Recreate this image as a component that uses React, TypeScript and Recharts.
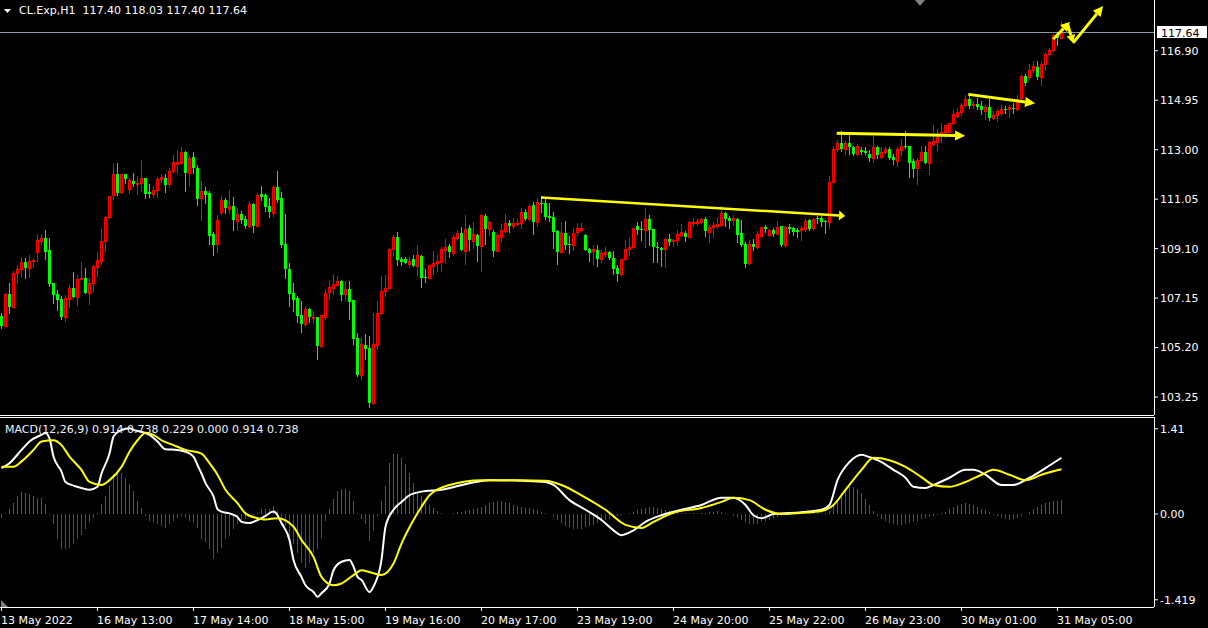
import React from "react";
import { ComposedChart, Bar, Line, XAxis, YAxis, ReferenceLine } from "recharts";

// CL.Exp H1 bars, 13 May - 31 May 2022 (index = bar position on the chart)
const opens = [
  106.44, 106.06, 107.31, 106.81, 108.13, 108.28, 108.56, 108.35, 108.6, 108.98,
  109.39, 109.52, 109.05, 107.73, 107.31, 107.1, 106.4, 107.13, 107.55, 107.21,
  107.89, 107.94, 107.36, 107.73, 108.39, 108.62, 109.39, 110.33, 111.2, 112.04,
  111.34, 112.04, 111.44, 111.77, 111.66, 111.7, 111.87, 111.34, 111.26, 111.4,
  111.83, 111.88, 111.64, 112.16, 112.44, 112.49, 112.91, 112.08, 112.71, 112.28,
  111.1, 111.36, 111.3, 109.66, 109.29, 110.56, 111.02, 110.67, 110.78, 110.2,
  110.47, 110.27, 109.99, 110.86, 110.0, 111.25, 111.2, 110.78, 110.52, 111.53,
  111.1, 109.28, 108.3, 107.34, 107.15, 106.48, 106.14, 106.71, 106.38, 106.4,
  105.27, 106.42, 107.38, 107.54, 107.68, 107.81, 107.3, 107.51, 107.07, 105.58,
  104.11, 105.3, 105.18, 103.0, 105.31, 106.56, 107.43, 107.55, 109.09, 109.56,
  108.69, 108.69, 108.51, 108.69, 108.43, 108.81, 107.99, 107.95, 108.43, 108.53,
  108.58, 109.06, 109.2, 108.94, 109.52, 109.72, 109.02, 109.91, 109.4, 109.64,
  109.2, 110.39, 109.87, 109.76, 109.01, 109.56, 109.79, 110.11, 109.99, 110.07,
  110.11, 110.54, 110.27, 110.82, 110.15, 110.9, 110.9, 110.39, 110.35, 109.79,
  108.97, 109.72, 109.28, 109.24, 109.76, 109.83, 109.64, 109.09, 109.01, 109.05,
  108.69, 108.89, 108.97, 108.73, 108.34, 108.11, 108.69, 109.09, 109.16, 109.99,
  109.87, 109.83, 110.27, 109.87, 109.16, 109.12, 109.09, 109.48, 109.4, 109.44,
  109.64, 109.72, 109.56, 110.11, 110.11, 110.15, 110.27, 109.76, 109.95, 109.99,
  110.03, 110.5, 110.31, 110.23, 110.27, 109.72, 109.28, 108.53, 109.28, 109.16,
  109.6, 109.95, 109.65, 109.83, 109.68, 109.99, 109.24, 109.95, 109.91, 109.83,
  109.83, 109.87, 110.23, 109.91, 110.31, 110.31, 110.19, 110.15, 111.74, 113.03,
  113.26, 113.03, 113.26, 113.11, 112.83, 112.99, 112.95, 112.83, 112.67, 113.11,
  112.72, 112.91, 113.03, 112.71, 112.55, 112.99, 113.14, 113.14, 112.55, 112.28,
  112.59, 112.91, 112.48, 113.22, 113.3, 113.62, 113.7, 113.71, 114.05, 114.33,
  114.49, 114.76, 115.0, 114.76, 114.8, 114.72, 114.52, 114.68, 114.25, 114.37,
  114.45, 114.6, 114.6, 114.64, 114.6, 115.04, 115.9, 115.87, 116.14, 116.26,
  115.86, 116.38, 116.77, 116.93, 117.52, 117.4,
];
const highs = [
  106.56, 107.35, 107.73, 108.23, 108.44, 108.77, 108.74, 108.84, 108.72, 109.66,
  109.68, 109.83, 109.52, 107.74, 107.47, 107.23, 107.27, 107.65, 108.18, 108.06,
  108.58, 108.34, 107.95, 108.44, 108.97, 109.86, 110.37, 111.19, 112.44, 112.48,
  112.06, 112.06, 111.88, 112.08, 111.97, 112.59, 111.89, 111.66, 111.58, 111.94,
  112.04, 112.04, 112.27, 112.78, 112.99, 113.12, 112.93, 112.76, 112.91, 112.38,
  111.75, 111.54, 111.37, 109.76, 110.43, 111.17, 111.1, 111.41, 111.13, 110.69,
  110.58, 110.37, 110.98, 110.88, 111.3, 111.57, 111.28, 111.1, 111.57, 112.15,
  111.32, 110.47, 108.53, 107.76, 107.24, 107.04, 106.83, 106.75, 106.63, 106.42,
  106.5, 107.51, 107.84, 108.09, 108.02, 107.86, 107.82, 107.82, 107.09, 105.79,
  105.58, 105.73, 105.66, 106.56, 107.04, 108.03, 108.06, 109.12, 109.64, 109.76,
  108.78, 108.77, 108.78, 108.85, 109.24, 108.85, 108.3, 108.47, 109.01, 108.85,
  109.16, 109.48, 109.28, 109.64, 109.82, 109.95, 110.43, 110.03, 110.15, 109.68,
  110.45, 110.47, 110.17, 109.83, 109.72, 110.07, 110.47, 110.23, 110.31, 110.27,
  110.7, 110.66, 110.86, 110.94, 111.1, 111.17, 111.06, 110.9, 110.54, 109.83,
  110.15, 110.19, 109.6, 109.91, 110.11, 110.11, 109.66, 109.11, 109.24, 109.24,
  109.05, 109.16, 108.99, 109.01, 108.45, 108.71, 109.44, 109.52, 109.93, 110.15,
  110.19, 110.7, 110.43, 109.89, 109.36, 109.16, 109.5, 109.68, 109.48, 109.83,
  110.07, 109.79, 110.19, 110.31, 110.27, 110.31, 110.35, 110.03, 110.15, 110.35,
  110.78, 110.54, 110.39, 110.43, 110.29, 110.23, 109.36, 109.44, 109.48, 109.79,
  109.97, 110.03, 109.87, 109.91, 110.19, 110.01, 109.99, 110.07, 109.95, 109.91,
  109.99, 110.27, 110.27, 110.31, 110.39, 110.39, 110.23, 111.95, 113.15, 113.38,
  113.74, 113.34, 113.62, 113.13, 113.22, 113.11, 113.11, 112.99, 113.54, 113.14,
  113.11, 113.11, 113.11, 112.83, 113.11, 113.42, 113.74, 113.16, 112.63, 112.67,
  113.14, 113.14, 113.34, 113.97, 113.82, 114.05, 113.99, 114.07, 114.56, 114.64,
  114.84, 115.16, 115.19, 114.92, 115.04, 114.92, 114.76, 115.0, 114.52, 114.6,
  114.76, 114.72, 114.76, 114.84, 115.16, 115.94, 115.98, 116.38, 116.5, 116.5,
  116.46, 116.85, 117.01, 117.56, 117.6, 118.03,
];
const lows = [
  105.97, 106.05, 106.57, 106.79, 107.76, 107.99, 107.94, 107.99, 108.39, 108.62,
  109.28, 108.69, 107.64, 106.97, 106.68, 106.33, 106.25, 106.81, 107.18, 106.88,
  107.89, 107.35, 106.92, 107.44, 108.03, 108.49, 108.99, 110.3, 111.07, 111.21,
  111.29, 111.68, 111.28, 111.58, 111.24, 111.38, 111.11, 111.15, 111.15, 111.15,
  111.71, 111.34, 111.52, 112.13, 112.07, 112.47, 111.38, 111.61, 112.07, 110.82,
  110.23, 110.89, 109.28, 108.85, 108.98, 110.47, 110.5, 110.5, 109.83, 109.83,
  110.12, 109.92, 109.94, 109.76, 109.98, 111.02, 110.59, 110.36, 110.4, 110.94,
  109.18, 107.94, 106.85, 106.65, 106.22, 105.83, 106.06, 106.2, 106.18, 104.76,
  105.23, 106.33, 107.1, 107.3, 107.66, 107.07, 107.07, 106.33, 105.33, 104.08,
  103.96, 104.75, 102.87, 102.98, 105.14, 106.53, 107.23, 107.53, 108.85, 108.45,
  108.45, 108.53, 108.39, 108.4, 108.06, 107.6, 107.8, 107.93, 108.11, 108.22,
  108.22, 108.53, 108.77, 108.85, 109.44, 109.03, 108.49, 109.05, 109.14, 108.61,
  108.22, 109.28, 109.64, 108.81, 108.99, 109.4, 109.76, 109.76, 109.91, 110.03,
  109.91, 110.23, 110.23, 109.68, 109.99, 110.54, 110.27, 110.19, 109.12, 108.49,
  108.95, 109.09, 108.93, 109.05, 109.64, 109.79, 109.03, 108.61, 108.49, 108.42,
  108.57, 108.81, 108.71, 108.1, 107.82, 108.06, 108.67, 108.85, 109.12, 109.68,
  109.44, 109.16, 109.24, 108.57, 108.57, 108.42, 108.38, 109.24, 109.2, 109.24,
  109.6, 109.4, 109.54, 109.99, 110.03, 110.11, 109.6, 109.36, 109.56, 109.91,
  110.01, 109.99, 109.91, 110.03, 109.36, 109.2, 108.38, 108.51, 109.05, 109.14,
  109.58, 109.76, 109.6, 109.6, 109.66, 109.2, 109.22, 109.72, 109.64, 109.56,
  109.44, 109.79, 109.85, 109.87, 110.11, 109.99, 109.72, 109.91, 111.67, 112.95,
  112.95, 112.83, 112.83, 112.79, 112.79, 112.83, 112.83, 112.55, 112.51, 112.67,
  112.67, 112.87, 112.63, 112.44, 112.36, 112.79, 113.07, 111.92, 111.92, 111.65,
  112.57, 112.46, 112.04, 113.18, 112.99, 113.3, 113.5, 113.7, 114.01, 114.29,
  114.37, 114.72, 114.64, 114.64, 114.6, 114.41, 114.21, 114.17, 114.21, 114.13,
  114.37, 114.45, 114.29, 114.45, 114.56, 115.0, 115.55, 115.79, 116.06, 115.79,
  115.55, 116.14, 116.73, 116.89, 117.13, 117.4,
];
const closes = [
  106.05, 107.31, 106.79, 108.13, 108.28, 108.56, 108.35, 108.6, 108.65, 109.44,
  109.52, 108.98, 107.71, 107.27, 107.07, 106.4, 107.15, 107.55, 107.19, 107.89,
  107.94, 107.35, 107.73, 108.42, 108.64, 109.39, 110.33, 111.17, 112.04, 111.3,
  112.04, 111.86, 111.79, 111.66, 111.69, 111.87, 111.26, 111.26, 111.4, 111.84,
  111.92, 111.62, 112.15, 112.5, 112.5, 112.91, 112.08, 112.66, 112.28, 111.07,
  111.36, 111.23, 109.6, 109.24, 110.23, 111.0, 110.7, 110.78, 110.23, 110.47,
  110.23, 110.0, 110.86, 110.0, 111.21, 111.15, 110.75, 110.54, 111.53, 111.03,
  109.24, 108.31, 107.31, 107.07, 106.46, 106.13, 106.71, 106.4, 106.4, 105.27,
  106.47, 107.35, 107.58, 107.69, 107.81, 107.27, 107.51, 107.0, 105.54, 104.11,
  105.34, 105.14, 103.0, 105.34, 106.56, 107.43, 107.55, 109.09, 109.56, 108.65,
  108.56, 108.55, 108.61, 108.42, 108.85, 107.94, 107.95, 108.45, 108.53, 108.61,
  109.09, 109.16, 108.97, 109.56, 109.72, 109.05, 109.87, 109.44, 109.68, 109.2,
  110.43, 109.87, 110.15, 109.01, 109.64, 109.83, 110.11, 109.99, 110.11, 110.11,
  110.54, 110.28, 110.78, 110.15, 110.94, 110.86, 110.35, 110.31, 109.76, 108.97,
  109.72, 109.24, 109.24, 109.72, 109.91, 109.91, 109.05, 108.93, 109.09, 108.69,
  108.93, 108.97, 108.73, 108.3, 108.1, 108.69, 109.09, 109.16, 109.91, 109.83,
  109.83, 110.27, 109.83, 109.16, 109.12, 109.05, 109.48, 109.36, 109.44, 109.68,
  109.76, 109.56, 110.15, 110.15, 110.19, 110.27, 109.79, 109.95, 110.03, 110.07,
  110.5, 110.27, 110.19, 110.31, 109.64, 109.24, 108.49, 109.28, 109.16, 109.68,
  109.95, 109.87, 109.83, 109.68, 109.95, 109.24, 109.95, 109.87, 109.76, 109.76,
  109.91, 110.19, 109.87, 110.27, 110.27, 110.15, 110.15, 111.71, 113.03, 113.26,
  113.03, 113.26, 113.11, 112.83, 113.14, 112.91, 112.87, 112.67, 113.11, 112.79,
  112.91, 113.03, 112.67, 112.59, 113.03, 113.14, 113.11, 112.48, 112.24, 112.59,
  112.91, 112.48, 113.3, 113.34, 113.5, 113.7, 113.97, 114.05, 114.41, 114.49,
  114.76, 115.0, 114.72, 114.8, 114.68, 114.56, 114.68, 114.25, 114.37, 114.52,
  114.6, 114.56, 114.68, 114.6, 115.0, 115.9, 115.63, 116.14, 116.3, 115.86,
  116.38, 116.77, 116.93, 117.52, 117.4, 117.64,
];

const lastPrice = 117.64;
const priceTicks = [116.9, 114.95, 113.0, 111.05, 109.1, 107.15, 105.2, 103.25];

const timeTickIdx = [0, 24, 48, 72, 96, 120, 144, 168, 192, 216, 240, 264];
const timeTickLabels = [
  "13 May 2022", "16 May 13:00", "17 May 14:00", "18 May 15:00", "19 May 16:00", "20 May 17:00",
  "23 May 19:00", "24 May 20:00", "25 May 22:00", "26 May 23:00", "30 May 01:00", "31 May 05:00",
];

// MACD(12,26,9) histogram, one value per bar
const histValues = [
  -0.06, 0.02, 0.08, 0.19, 0.3, 0.36, 0.35, 0.33, 0.3, 0.27,
  0.27, 0.17, -0.02, -0.17, -0.42, -0.58, -0.58, -0.56, -0.5, -0.42,
  -0.34, -0.25, -0.14, -0.06, 0.02, 0.16, 0.3, 0.46, 0.66, 0.66,
  0.68, 0.6, 0.49, 0.38, 0.22, 0.1, -0.03, -0.12, -0.14, -0.17,
  -0.2, -0.23, -0.17, -0.12, -0.06, -0.03, -0.06, -0.12, -0.14, -0.23,
  -0.42, -0.47, -0.58, -0.75, -0.64, -0.56, -0.42, -0.36, -0.25, -0.17,
  -0.12, -0.09, -0.03, -0.01, 0.01, 0.08, 0.08, 0.08, 0.13, 0.05,
  -0.06, -0.2, -0.39, -0.5, -0.64, -0.81, -0.89, -0.81, -0.64, -0.58,
  -0.39, -0.12, 0.08, 0.24, 0.38, 0.41, 0.41, 0.38, 0.22, 0.01,
  -0.09, -0.17, -0.45, -0.28, -0.03, 0.22, 0.46, 0.85, 0.99, 1.0,
  0.93, 0.82, 0.68, 0.52, 0.35, 0.3, 0.22, 0.15, 0.1, 0.05,
  0.02, 0.0, 0.0, 0.02, 0.03, 0.04, 0.05, 0.06, 0.08, 0.1,
  0.12, 0.15, 0.18, 0.2, 0.22, 0.22, 0.2, 0.18, 0.15, 0.14,
  0.12, 0.1, 0.1, 0.08, 0.06, 0.04, 0.02, 0.0, -0.05, -0.1,
  -0.15, -0.2, -0.22, -0.25, -0.25, -0.24, -0.22, -0.2, -0.18, -0.15,
  -0.12, -0.1, -0.08, -0.06, -0.04, -0.02, 0.0, 0.02, 0.04, 0.06,
  0.08, 0.1, 0.12, 0.12, 0.1, 0.08, 0.06, 0.05, 0.04, 0.03,
  0.02, 0.02, 0.02, 0.02, 0.02, 0.02, 0.02, 0.03, 0.04, 0.05,
  0.04, 0.02, 0.0, -0.03, -0.06, -0.1, -0.14, -0.16, -0.17, -0.16,
  -0.14, -0.12, -0.1, -0.07, -0.05, -0.03, -0.02, -0.01, 0.0, 0.0,
  0.01, 0.01, 0.01, 0.01, 0.01, 0.01, 0.02, 0.05, 0.15, 0.25,
  0.35, 0.42, 0.45, 0.45, 0.42, 0.35, 0.25, 0.15, 0.05, -0.03,
  -0.08, -0.12, -0.15, -0.17, -0.18, -0.18, -0.17, -0.15, -0.13, -0.11,
  -0.09, -0.07, -0.05, -0.03, -0.01, 0.01, 0.04, 0.08, 0.12, 0.15,
  0.17, 0.18, 0.17, 0.15, 0.12, 0.09, 0.06, 0.03, -0.01, -0.04,
  -0.07, -0.09, -0.1, -0.09, -0.06, -0.03, 0.0, 0.04, 0.08, 0.12,
  0.15, 0.18, 0.2, 0.21, 0.22, 0.23,
];
// MACD main line (white), read at these bars
const macdIdx = [
  0, 2, 5, 7, 10, 11, 12, 13, 15, 16, 18, 20, 22, 24, 25, 27, 28, 30, 32, 33,
  35, 37, 39, 41, 44, 46, 48, 49, 50, 51, 53, 54, 55, 57, 59, 60, 62, 63, 65, 66,
  68, 69, 70, 72, 73, 75, 76, 78, 79, 80, 82, 83, 85, 87, 88, 89, 90, 92, 93, 95,
  96, 98, 100, 102, 105, 110, 117, 122, 130, 136, 138, 142, 146, 150, 153, 155, 158, 161, 165, 170,
  175, 180, 183, 186, 188, 190, 193, 200, 205, 207, 209, 212, 215, 217, 220, 223, 226, 228, 231, 233,
  237, 241, 243, 246, 250, 253, 257, 261, 265,
];
const macdValues = [
  0.76, 0.84, 1.06, 1.2, 1.31, 1.34, 1.25, 0.95, 0.7, 0.53, 0.47, 0.43, 0.4, 0.45, 0.67, 1.0, 1.28, 1.39, 1.42, 1.39,
  1.36, 1.31, 1.2, 1.07, 1.06, 1.03, 0.95, 0.81, 0.67, 0.51, 0.29, 0.08, 0.04, 0.01, -0.05, -0.13, -0.15, -0.13, -0.07, -0.03,
  0.04, -0.02, -0.15, -0.43, -0.76, -1.04, -1.18, -1.29, -1.37, -1.31, -1.15, -0.93, -0.79, -0.76, -0.87, -1.04, -1.09, -1.29, -1.2, -0.76,
  -0.21, 0.07, 0.2, 0.31, 0.37, 0.4, 0.51, 0.56, 0.55, 0.53, 0.48, 0.23, 0.07, -0.1, -0.27, -0.35, -0.27, -0.13, -0.02, 0.07,
  0.15, 0.27, 0.27, 0.15, -0.02, -0.07, 0.0, 0.03, 0.07, 0.15, 0.56, 0.86, 0.98, 0.94, 0.86, 0.73, 0.6, 0.45, 0.43, 0.48,
  0.6, 0.73, 0.73, 0.65, 0.48, 0.48, 0.6, 0.76, 0.93,
];
// signal line (yellow)
const signalIdx = [
  0, 3, 5, 8, 10, 13, 15, 17, 20, 22, 25, 27, 30, 32, 34, 36, 38, 40, 43, 46,
  50, 52, 54, 56, 59, 61, 64, 66, 69, 73, 75, 78, 80, 83, 85, 88, 90, 93, 95, 98,
  100, 103, 105, 107, 112, 120, 130, 136, 140, 145, 151, 156, 160, 163, 168, 175, 180, 183, 187, 191,
  195, 200, 205, 208, 211, 215, 218, 222, 226, 230, 233, 237, 241, 245, 248, 252, 256, 260, 265,
];
const signalValues = [
  0.78, 0.78, 0.87, 1.06, 1.2, 1.22, 1.14, 0.95, 0.73, 0.53, 0.48, 0.56, 0.78, 1.03, 1.22, 1.34, 1.31, 1.22, 1.14, 1.06,
  1.0, 0.84, 0.65, 0.4, 0.18, 0.01, -0.07, -0.09, -0.07, -0.21, -0.43, -0.71, -1.04, -1.18, -1.15, -1.01, -0.93, -0.98, -1.01, -0.82,
  -0.49, -0.1, 0.12, 0.31, 0.48, 0.56, 0.56, 0.55, 0.48, 0.31, 0.07, -0.18, -0.23, -0.13, 0.02, 0.1, 0.2, 0.27, 0.23, 0.07,
  0.0, 0.02, 0.05, 0.15, 0.4, 0.73, 0.93, 0.89, 0.78, 0.61, 0.48, 0.45, 0.53, 0.65, 0.73, 0.65, 0.56, 0.65, 0.74,
];
const macdTicks = [1.41, 0, -1.419];
const macdTickLabels = ["1.41", "0.00", "-1.419"];

// yellow arrows drawn on the price chart: [bar, price]
const arrowFrom = [[134.9, 111.12], [208.8, 113.65], [241.7, 115.18], [262.9, 117.35], [266.6, 117.91], [267.9, 117.21]];
const arrowTo = [[210.9, 110.39], [240.9, 113.55], [258.4, 114.83], [267.1, 118.03], [267.9, 117.21], [275.4, 118.66]];

const candles = closes.map((c, i) => ({ i, o: opens[i], h: highs[i], l: lows[i], c }));
const macdRows = histValues.map((v, i) => ({
  i,
  hist: v,
  main: macdIdx.indexOf(i) >= 0 ? macdValues[macdIdx.indexOf(i)] : null,
  sig: signalIdx.indexOf(i) >= 0 ? signalValues[signalIdx.indexOf(i)] : null,
}));

const FONT = "DejaVu Sans";
const BULL = "#ff0000";
const BEAR = "#00ff00";
const X_DOMAIN = [-0.375, 288.125];
const PLOT_RIGHT = 1154;

function Candle(props: any) {
  const { x, y, width, height, payload } = props;
  if (x == null || y == null || !payload) return null;
  const { o, h, l, c } = payload;
  const cx = Math.floor(x + width / 2) + 0.5;
  const top = Math.min(y, y + height);
  const k = Math.abs(height) / (h - l || 1);
  const py = (p: number) => Math.round(top + (h - p) * k);
  const yH = py(h), yL = py(l), yO = py(o), yC = py(c);
  const bull = c >= o;
  const col = bull ? BULL : BEAR;
  const bt = Math.min(yO, yC), bb = Math.max(yO, yC);
  return (
    <g shapeRendering="crispEdges">
      <line x1={cx} x2={cx} y1={yH} y2={yL + 1} stroke={col} />
      {bull ? (
        bb - bt >= 1 ? (
          <rect x={cx - 1} y={bt + 0.5} width={2} height={bb - bt} fill="#000" stroke={col} />
        ) : (
          <rect x={cx - 1.5} y={bt} width={3} height={1} fill={col} />
        )
      ) : (
        <rect x={cx - 1.5} y={bt} width={3} height={Math.max(bb - bt, 1)} fill={col} />
      )}
    </g>
  );
}

function HistBar(props: any) {
  const { x, y, width, height, payload } = props;
  if (x == null || y == null || !payload) return null;
  const cx = Math.floor(x + width / 2);
  const top = Math.min(y, y + height);
  return (
    <rect
      x={cx}
      y={top}
      width={1}
      height={Math.max(Math.abs(height), 0.5)}
      fill={payload.hist >= 0 ? "#c81e3c" : "#1e6e1e"}
      shapeRendering="crispEdges"
    />
  );
}

const arrowShape = (w: number, headLen: number, headHalf: number) => (props: any) => {
  const { x1, y1, x2, y2 } = props;
  const a = Math.atan2(y2 - y1, x2 - x1);
  const bx = x2 - headLen * Math.cos(a);
  const by = y2 - headLen * Math.sin(a);
  const nx = -Math.sin(a) * headHalf;
  const ny = Math.cos(a) * headHalf;
  return (
    <g>
      <line x1={x1} y1={y1} x2={bx} y2={by} stroke="#ffff00" strokeWidth={w} />
      <polygon points={`${x2},${y2} ${bx + nx},${by + ny} ${bx - nx},${by - ny}`} fill="#ffff00" />
    </g>
  );
};
const arrowStyles = [
  [2.5, 6, 5],
  [3, 10, 5],
  [3, 10, 5],
  [3, 9, 5],
  [3, 8, 4.5],
  [3, 10, 5],
];

const priceLineShape = (props: any) => {
  const { x1, x2, y1 } = props;
  const left = Math.max(Math.min(x1, x2), 0);
  const right = Math.min(Math.max(x1, x2), PLOT_RIGHT);
  const yy = Math.round(y1) + 0.5;
  return (
    <g>
      <line x1={left} x2={right} y1={yy} y2={yy} stroke="#8796a8" shapeRendering="crispEdges" />
      <rect x={right + 3} y={yy - 6.5} width={50} height={12} fill="#ffffff" />
      <text x={right + 7} y={yy + 4} fill="#000" fontSize={11} fontFamily={FONT}>
        {lastPrice.toFixed(2)}
      </text>
    </g>
  );
};

function TimeTick(props: any) {
  const { x, payload } = props;
  const idx = timeTickIdx.indexOf(payload.value);
  if (idx < 0) return null;
  return (
    <text x={x - 0.5} y={208} fill="#fff" fontSize={11} fontFamily={FONT}>
      {timeTickLabels[idx]}
    </text>
  );
}

export default function App() {
  return (
    <div
      style={{
        position: "absolute",
        left: 0,
        top: 0,
        width: 1208,
        height: 628,
        background: "#000",
        overflow: "hidden",
        fontFamily: FONT,
      }}
    >
      <div style={{ position: "absolute", left: 0, top: 0 }}>
        <ComposedChart width={1208} height={416} data={candles} margin={{ top: 0, right: 0, bottom: 0, left: 0 }}>
          <XAxis
            dataKey="i"
            type="number"
            domain={X_DOMAIN}
            allowDataOverflow
            height={1}
            tick={false}
            tickLine={false}
            axisLine={{ stroke: "#fff", shapeRendering: "crispEdges" }}
          />
          <YAxis
            orientation="right"
            width={54}
            domain={[102.542, 118.9]}
            allowDataOverflow
            ticks={priceTicks}
            interval={0}
            tickSize={4}
            tickLine={{ stroke: "#fff" }}
            axisLine={{ stroke: "#fff", shapeRendering: "crispEdges" }}
            tick={{ fill: "#fff", fontSize: 11, fontFamily: FONT }}
            tickFormatter={(v: number) => v.toFixed(2)}
          />
          <ReferenceLine y={lastPrice} shape={priceLineShape} ifOverflow="visible" />
          <Bar dataKey={(d: any) => [d.l, d.h]} barSize={3} shape={<Candle />} isAnimationActive={false} />
          {arrowFrom.map((p, j) => (
            <ReferenceLine
              key={j}
              segment={[
                { x: p[0], y: p[1] },
                { x: arrowTo[j][0], y: arrowTo[j][1] },
              ]}
              ifOverflow="visible"
              shape={arrowShape(arrowStyles[j][0], arrowStyles[j][1], arrowStyles[j][2])}
            />
          ))}
        </ComposedChart>
      </div>

      <div style={{ position: "absolute", left: 0, top: 416 }}>
        <ComposedChart width={1208} height={212} data={macdRows} margin={{ top: 0, right: 0, bottom: 0, left: 0 }}>
          <XAxis
            xAxisId="top"
            orientation="top"
            dataKey="i"
            type="number"
            domain={X_DOMAIN}
            allowDataOverflow
            height={1}
            tick={false}
            tickLine={false}
            axisLine={{ stroke: "#fff", shapeRendering: "crispEdges" }}
          />
          <XAxis
            dataKey="i"
            type="number"
            domain={X_DOMAIN}
            allowDataOverflow
            height={21}
            ticks={timeTickIdx}
            interval={0}
            tickSize={4}
            tickLine={{ stroke: "#fff" }}
            axisLine={{ stroke: "#fff", shapeRendering: "crispEdges" }}
            tick={<TimeTick />}
          />
          <YAxis
            orientation="right"
            width={54}
            domain={[-1.5385, 1.6046]}
            allowDataOverflow
            ticks={macdTicks}
            interval={0}
            tickSize={4}
            tickLine={{ stroke: "#fff" }}
            axisLine={{ stroke: "#fff", shapeRendering: "crispEdges" }}
            tick={{ fill: "#fff", fontSize: 11, fontFamily: FONT }}
            tickFormatter={(v: number) => macdTickLabels[macdTicks.indexOf(v)]}
          />
          <Bar dataKey="hist" barSize={1} shape={<HistBar />} isAnimationActive={false} />
          <Line
            dataKey="main"
            type="monotone"
            stroke="#ffffff"
            strokeWidth={2}
            dot={false}
            connectNulls
            isAnimationActive={false}
          />
          <Line
            dataKey="sig"
            type="monotone"
            stroke="#ffff00"
            strokeWidth={2}
            dot={false}
            connectNulls
            isAnimationActive={false}
          />
        </ComposedChart>
      </div>

      <svg width={1208} height={628} style={{ position: "absolute", left: 0, top: 0, pointerEvents: "none" }}>
        <polygon points="4,9 11,9 7.5,13" fill="#fff" />
        <polygon points="915,0 925,0 920,6" fill="#808080" />
        <polygon points="1,600 1,607 8,607" fill="#808080" />
      </svg>
      <div style={{ position: "absolute", left: 19, top: 4, color: "#fff", fontSize: 11, whiteSpace: "pre" }}>
        {"CL.Exp,H1  117.40 118.03 117.40 117.64"}
      </div>
      <div style={{ position: "absolute", left: 5, top: 423, color: "#eef2f6", fontSize: 11, whiteSpace: "pre" }}>
        {"MACD(12,26,9) 0.914 0.738 0.229 0.000 0.914 0.738"}
      </div>
    </div>
  );
}
